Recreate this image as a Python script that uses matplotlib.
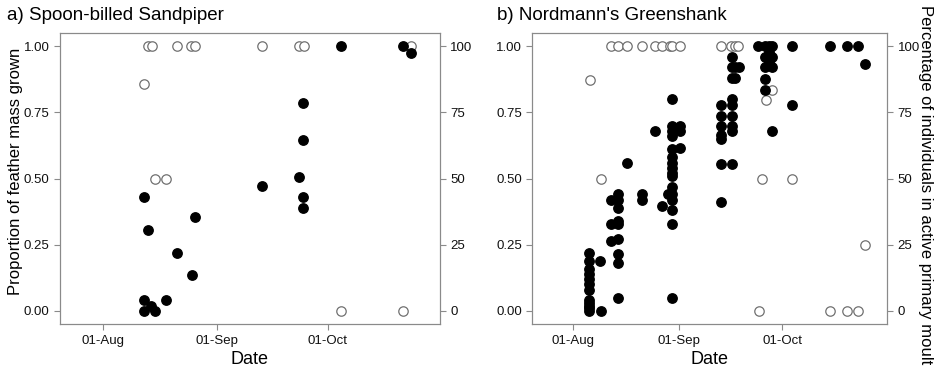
import numpy as np
import pandas as pd
import matplotlib
matplotlib.use("Agg")
import matplotlib.pyplot as plt
import matplotlib.dates as mdates

plt.rcParams['font.family'] = ['Liberation Sans', 'DejaVu Sans']

# days after 01-Aug
# a) Spoon-billed Sandpiper
sbs_feather_day = [11.1, 12.0, 11.1, 12.9, 11.1, 14.0, 17.0, 20.1, 24.0, 24.9,
                   43.1, 53.2, 54.3, 54.3, 54.3, 54.3, 64.5, 81.4, 83.5]
sbs_feather = [0.43, 0.305, 0.04, 0.02, 0.0, 0.0, 0.04, 0.22, 0.135, 0.355,
               0.472, 0.505, 0.787, 0.645, 0.43, 0.39, 1.0, 1.0, 0.976]
sbs_moult_day = [11.1, 12.0, 13.1, 19.9, 23.7, 24.9, 43.0, 53.2, 54.4, 83.5,
                 14.0, 17.0, 64.5, 81.4]
sbs_moult = [85.6, 100, 100, 100, 100, 100, 100, 100, 100, 100,
             50, 50, 0, 0]

# b) Nordmann's Greenshank
ng_feather_day = ([4.8] * 12 + [7.9, 8.1] + [11.0] * 3 + [13.2] * 9 +
                  [15.9, 20.0, 20.0, 24.0, 26.1, 27.6] + [29.0] * 16 + [31.3] * 3 +
                  [43.0] * 7 + [46.2] * 9 + [47.1, 47.1, 48.3] +
                  [54.0] + [55.8] * 5 + [57.0] * 4 + [58.0] * 4 +
                  [63.9, 63.9, 74.9, 79.9, 83.0, 85.1])
ng_feather = ([0, 0.01, 0.02, 0.03, 0.04, 0.08, 0.10, 0.12, 0.14, 0.16, 0.19, 0.22] +
              [0.19, 0.0] + [0.42, 0.33, 0.265] +
              [0.44, 0.42, 0.39, 0.34, 0.33, 0.27, 0.215, 0.18, 0.05] +
              [0.558, 0.44, 0.42, 0.68, 0.397, 0.44] +
              [0.80, 0.70, 0.68, 0.66, 0.61, 0.58, 0.56, 0.54, 0.52, 0.51, 0.47, 0.44,
               0.42, 0.38, 0.33, 0.05] +
              [0.70, 0.68, 0.615] +
              [0.78, 0.735, 0.70, 0.665, 0.65, 0.557, 0.41] +
              [0.96, 0.92, 0.88, 0.80, 0.78, 0.735, 0.70, 0.68, 0.557] +
              [0.92, 0.88, 0.92] +
              [1.0] + [1.0, 0.96, 0.92, 0.875, 0.833] + [1.0, 0.98, 0.96, 0.94] +
              [1.0, 0.96, 0.92, 0.68] +
              [1.0, 0.78, 1.0, 1.0, 1.0, 0.935])
ng_moult_day = [5.0, 8.1, 11.0, 13.2, 15.9, 20.0, 24.0, 26.1, 28.3, 29.0, 31.1,
                43.0, 46.1, 47.1, 48.1, 56.1, 58.0, 55.0, 63.9, 54.2, 74.9, 79.9,
                83.0, 85.1]
ng_moult = [87.2, 50, 100, 100, 100, 100, 100, 100, 100, 100, 100,
            100, 100, 100, 100, 79.8, 83.3, 50, 50, 0, 0, 0, 0, 24.9]

start = pd.Timestamp("2000-08-01")
def to_date(d):
    return start + pd.to_timedelta(np.array(d), unit="D")

fig = plt.figure(figsize=(9.37, 3.76), dpi=100)
axa = fig.add_axes([0.064, 0.138, 0.4056, 0.774])
axb = fig.add_axes([0.568, 0.138, 0.379, 0.774])

grey = "#8a8a8a"
panels = [
    (axa, "a) Spoon-billed Sandpiper", sbs_feather_day, sbs_feather, sbs_moult_day, sbs_moult),
    (axb, "b) Nordmann's Greenshank", ng_feather_day, ng_feather, ng_moult_day, ng_moult),
]
for ax, title, fd, fv, md, mv in panels:
    ax2 = ax.twinx()
    ax2.scatter(to_date(md), mv, s=46, facecolor="white", edgecolor="#707070", linewidth=0.9, zorder=2)
    ax.scatter(to_date(fd), fv, s=46, color="black", zorder=3)
    ax.set_zorder(ax2.get_zorder() + 1)
    ax.patch.set_visible(False)
    ax.set_ylim(-0.05, 1.05)
    ax2.set_ylim(-5, 105)
    ax.set_xlim(pd.Timestamp("2000-07-20 05:00"), pd.Timestamp("2000-10-31 12:00"))
    ax.set_yticks([0, 0.25, 0.5, 0.75, 1.0])
    ax.set_yticklabels(["0.00", "0.25", "0.50", "0.75", "1.00"])
    ax2.set_yticks([0, 25, 50, 75, 100])
    ax.set_xticks([pd.Timestamp("2000-08-01"), pd.Timestamp("2000-09-01"), pd.Timestamp("2000-10-01")])
    ax.xaxis.set_major_formatter(mdates.DateFormatter("%d-%b"))
    for a in (ax, ax2):
        for s in a.spines.values():
            s.set_color(grey)
        a.tick_params(colors=grey, labelcolor="#111111", labelsize=9.5, length=4)
    ax.set_xlabel("Date", fontsize=13, labelpad=3)
    ax.text(-0.14 if ax is axa else -0.1, 1.03, title, transform=ax.transAxes,
            fontsize=13.5, ha="left", va="bottom")

fig.text(0.017, 0.545, "Proportion of feather mass grown", rotation=90,
         fontsize=12, ha="center", va="center")
fig.text(0.988, 0.51, "Percentage of individuals in active primary moult", rotation=270,
         fontsize=12, ha="center", va="center")

fig.savefig("out.png", dpi=100)
